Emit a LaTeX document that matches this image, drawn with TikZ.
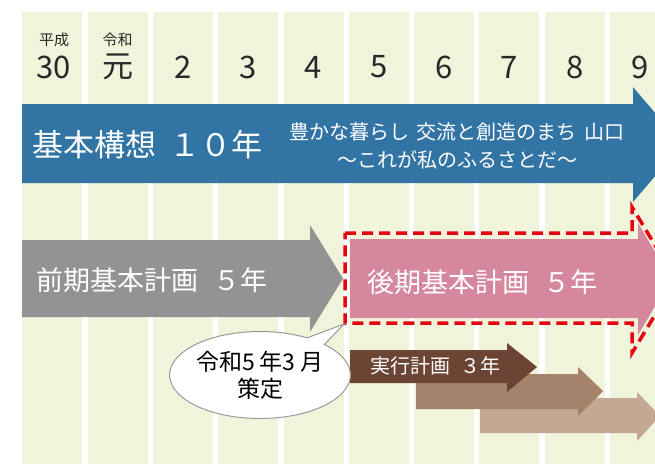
\documentclass[tikz,border=0pt]{standalone}
\usepackage{fontspec}
\setmainfont{Noto Sans CJK JP}
\usetikzlibrary{shapes.callouts}
\definecolor{colfill}{RGB}{239,244,218}
\definecolor{blueA}{RGB}{50,117,164}
\definecolor{grayA}{RGB}{147,147,147}
\definecolor{pinkA}{RGB}{212,135,157}
\definecolor{brownD}{RGB}{107,68,52}
\definecolor{brownM}{RGB}{165,131,106}
\definecolor{brownL}{RGB}{196,168,147}
\definecolor{redD}{RGB}{230,0,18}
\definecolor{txt}{RGB}{40,40,40}
\tikzset{
  colbox/.style={fill=colfill, draw=none},
  smalllab/.style={font=\fontsize{15}{15}\selectfont, text=txt, inner sep=0pt},
  biglab/.style={font=\fontsize{31}{31}\selectfont, text=txt, inner sep=0pt},
  wtxt/.style={text=white, inner sep=0pt, align=center},
}
\begin{document}
\begin{tikzpicture}[x=1pt,y=-1pt]
\clip (0,0) rectangle (655,464);
\fill[white] (0,0) rectangle (655,464);
% columns
\foreach \i in {0,...,9}{
  \fill[colbox] ({22.3+65.3*\i},12) rectangle ({82.3+65.3*\i},464);
}
% year labels
\node[smalllab] (s0) at (54,40) {平成};
\node[smalllab] (s1) at (117.5,40) {令和};
\node[biglab] (y0) at (53.5,67) {30};
\node[biglab] (y1) at (118,67) {元};
\foreach \n [count=\k from 2] in {2,3,4,5,6,7,8,9}{
  \node[biglab] (y\k) at ({52.3+65.3*\k},67) {\n};
}
% blue arrow
\fill[blueA] (22,104) -- (633,104) -- (633,87) -- (682,144.5) -- (633,202) -- (633,183) -- (22,183) -- cycle;
\node[wtxt, font=\fontsize{31}{31}\selectfont] (kihon) at (147.5,145) {基本構想\hspace{0.4em}１０年};
\node[wtxt, font=\fontsize{20}{28}\selectfont] (motto) at (457,146) {豊かな暮らし\hspace{0.4em}交流と創造のまち\hspace{0.4em}山口\\～これが私のふるさとだ～};
% gray arrow
\fill[grayA] (22,240) -- (310,240) -- (310,225) -- (343,278.5) -- (310,332) -- (310,317) -- (22,317) -- cycle;
\node[wtxt, font=\fontsize{27}{27}\selectfont] (zenki) at (152,280) {前期基本計画\hspace{0.55em}５年};
% pink arrow
\fill[pinkA] (350,239) -- (638,239) -- (638,223) -- (671,279) -- (638,335) -- (638,318) -- (350,318) -- cycle;
\node[wtxt, font=\fontsize{27}{27}\selectfont] (kouki) at (482.5,282) {後期基本計画\hspace{0.55em}５年};
% red dashed outline
\draw[redD, line width=3.5pt, dash pattern=on 11pt off 6pt]
  (345,233) -- (632,233) -- (632,207) -- (676,280) -- (632,353) -- (632,323) -- (345,323) -- cycle;
% brown arrows
\fill[brownL] (480,398) -- (637,398) -- (637,392) -- (660,416) -- (637,441) -- (637,433) -- (480,433) -- cycle;
\fill[brownM] (416,374) -- (578,374) -- (578,367) -- (603,391) -- (578,416) -- (578,409) -- (416,409) -- cycle;
\fill[brownD] (350,350) -- (507,350) -- (507,343) -- (537,367) -- (507,392) -- (507,383) -- (350,383) -- cycle;
\node[wtxt, font=\fontsize{20}{20}\selectfont] (jikkou) at (435,366) {実行計画\hspace{0.5em}３年};
% callout
\coordinate (ptr) at (344,324);
\node[ellipse callout, draw=gray!80, line width=1pt, fill=white, minimum width=165pt, minimum height=87pt,
  callout absolute pointer={(ptr)}, callout pointer arc=14, inner sep=0pt,
  font=\fontsize{23}{27}\selectfont, text=black, align=center] (bubble) at (260,375) {令和5 年3 月\\策定};
\end{tikzpicture}
\end{document}
